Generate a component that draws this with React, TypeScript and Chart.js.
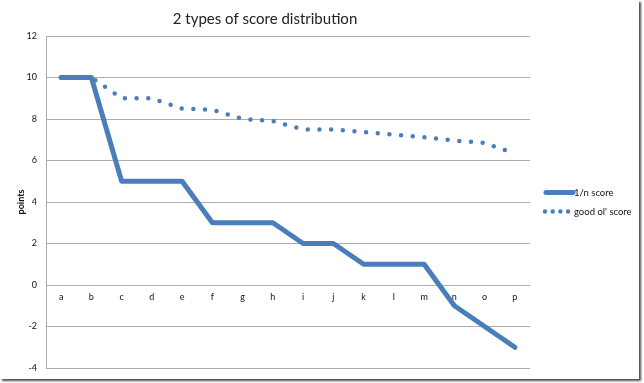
import React, { useEffect, useRef } from 'react';
import { Chart, registerables } from 'chart.js';

Chart.register(...registerables);

const chartTitle = '2 types of score distribution';
const yAxisTitle = 'points';
const categories = ['a', 'b', 'c', 'd', 'e', 'f', 'g', 'h', 'i', 'j', 'k', 'l', 'm', 'n', 'o', 'p'];
const seriesNames = ['1/n score', "good ol' score"];
const oneOverNScore = [10, 10, 5, 5, 5, 3, 3, 3, 2, 2, 1, 1, 1, -1, -2, -3];
const goodOlScore = [10, 10, 9, 9, 8.5, 8.45, 8, 7.9, 7.5, 7.5, 7.37, 7.24, 7.12, 6.96, 6.85, 6.33];
const yMin = -4;
const yMax = 12;
const yStep = 2;

const BLUE = '#4a7ebb';
const FONT = 'Lato, "Open Sans", sans-serif';

const legendPlugin = {
  id: 'excelLegend',
  afterDraw(chart: any) {
    const ctx = chart.ctx;
    const area = chart.chartArea;
    const x0 = area.right + 15;
    const x1 = x0 + 28;
    const yc = (area.top + area.bottom) / 2;
    const rows = [yc - 9.5, yc + 9.5];
    ctx.save();
    chart.data.datasets.forEach((ds: any, i: number) => {
      const y = rows[i];
      ctx.beginPath();
      ctx.strokeStyle = ds.borderColor;
      ctx.lineWidth = ds.borderWidth;
      ctx.lineCap = 'round';
      if (i === 1) ctx.setLineDash([0, 7.7]);
      else ctx.setLineDash([]);
      ctx.moveTo(x0 + (i === 1 ? 0 : 1), y);
      ctx.lineTo(x1, y);
      ctx.stroke();
      ctx.setLineDash([]);
      ctx.fillStyle = '#111';
      ctx.font = `9.5px ${FONT}`;
      ctx.textBaseline = 'middle';
      ctx.textAlign = 'left';
      ctx.fillText(ds.label, x1 + 1, y);
    });
    ctx.restore();
  },
};

export default function App() {
  const ref = useRef<HTMLCanvasElement>(null);

  useEffect(() => {
    if (!ref.current) return;
    const chart = new Chart(ref.current, {
      type: 'line',
      data: {
        labels: categories,
        datasets: [
          {
            label: seriesNames[0],
            data: oneOverNScore,
            borderColor: BLUE,
            backgroundColor: BLUE,
            borderWidth: 5,
            borderCapStyle: 'round',
            borderJoinStyle: 'round',
            pointRadius: 0,
            tension: 0,
          },
          {
            label: seriesNames[1],
            data: goodOlScore,
            borderColor: BLUE,
            backgroundColor: BLUE,
            borderWidth: 4.5,
            borderCapStyle: 'round',
            borderDash: [0, 11.7],
            pointRadius: 0,
            tension: 0,
          },
        ],
      },
      options: {
        responsive: false,
        animation: false,
        layout: { padding: { left: 0, right: 109, top: 0, bottom: 11 } },
        plugins: {
          legend: { display: false },
          tooltip: { enabled: false },
          title: {
            display: true,
            text: chartTitle,
            color: '#222',
            font: { family: FONT, size: 15, weight: 'normal' },
            padding: { top: 10, bottom: 8 },
          },
        },
        scales: {
          x: {
            type: 'category',
            position: { y: 0 } as any,
            offset: true,
            afterFit(scale: any) {
              scale.height = 0;
              scale.paddingTop = 0;
              scale.paddingBottom = 0;
            },
            grid: { display: false, drawTicks: false },
            border: { display: false },
            ticks: {
              color: '#111',
              font: { family: FONT, size: 9 },
              padding: 7,
              maxRotation: 0,
              autoSkip: false,
            },
          },
          y: {
            min: yMin,
            max: yMax,
            afterFit(scale: any) {
              scale.width = 46;
              scale.paddingTop = 0;
              scale.paddingBottom = 0;
            },
            ticks: {
              stepSize: yStep,
              color: '#111',
              font: { family: FONT, size: 9 },
              padding: 9,
            },
            grid: { color: '#acacac', drawTicks: false, lineWidth: 1 },
            border: { display: true, color: '#acacac' },
            title: {
              display: true,
              text: yAxisTitle,
              color: '#111',
              font: { family: FONT, size: 9, weight: 'bold' },
              padding: { top: 16, bottom: 0 },
            },
          },
        },
      },
      plugins: [legendPlugin],
    });
    return () => chart.destroy();
  }, []);

  return (
    <div
      style={{
        position: 'fixed',
        left: 0,
        top: 0,
        width: 644,
        height: 383,
        background: '#fff',
      }}
    >
      <canvas
        ref={ref}
        width={639}
        height={379}
        style={{
          display: 'block',
          width: 639,
          height: 379,
          boxShadow: '2px 2px 2px rgba(0,0,0,0.7)',
        }}
      />
    </div>
  );
}
